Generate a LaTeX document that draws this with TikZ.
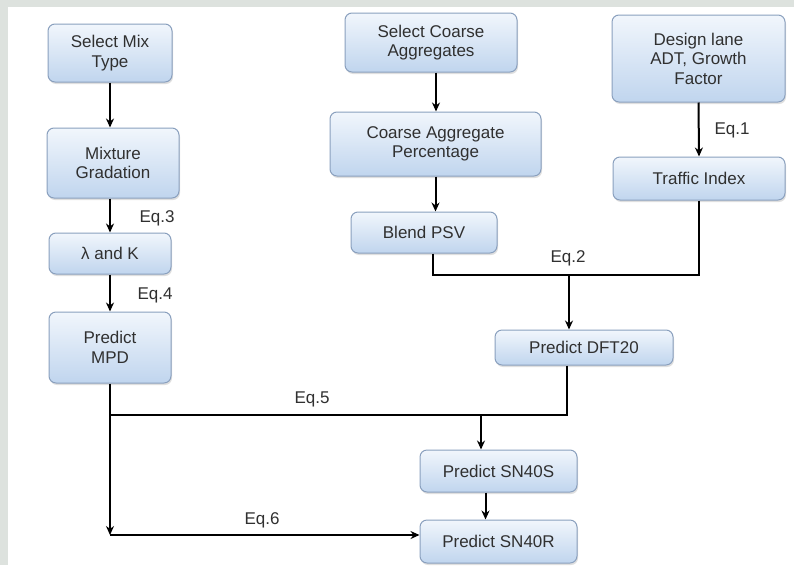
\documentclass[tikz,border=0pt]{standalone}
\usepackage{fontspec}
\setmainfont{Liberation Sans}
\usetikzlibrary{arrows.meta,shadows}
\definecolor{bgray}{HTML}{DDE2DE}
\definecolor{boxtop}{HTML}{F1F6FC}
\definecolor{boxbot}{HTML}{C0D5EE}
\definecolor{boxedge}{HTML}{8AA0BE}
\definecolor{txt}{HTML}{303030}
\tikzset{
  stepbox/.style={rounded corners=7pt, draw=boxedge, line width=1pt,
    top color=boxtop, bottom color=boxbot, text=txt, align=center,
    font=\fontsize{17}{19.5}\selectfont, inner sep=0pt,
    drop shadow={shadow xshift=1pt, shadow yshift=-2pt, opacity=0.25, fill=gray}},
  conn/.style={line width=2pt, black},
  arr/.style={conn, -{Stealth[length=9pt,width=8pt]}},
  eqlabel/.style={text=txt, font=\fontsize{17}{19}\selectfont, inner sep=0pt}
}
\begin{document}
\begin{tikzpicture}[x=1pt,y=-1pt]
\fill[bgray] (0,0) rectangle (794,565);
\fill[white] (8,7) rectangle (794,565);
\useasboundingbox (0,0) rectangle (794,565);

\node[stepbox, minimum width=124pt, minimum height=58pt] (mix) at (110,53) {Select Mix\\Type};
\node[stepbox, minimum width=132pt, minimum height=70pt] (grad) at (113,163) {Mixture\\Gradation};
\node[stepbox, minimum width=122pt, minimum height=41pt] (lk) at (110,253.5) {λ and K};
\node[stepbox, minimum width=122pt, minimum height=71pt] (mpd) at (110,347.5) {Predict\\MPD};

\node[stepbox, minimum width=172pt, minimum height=59pt] (sca) at (431,42.5) {Select Coarse\\Aggregates};
\node[stepbox, minimum width=211pt, minimum height=64pt] (cap) at (435.5,144) {Coarse Aggregate\\Percentage};
\node[stepbox, minimum width=146pt, minimum height=41pt] (psv) at (424,232.5) {Blend PSV};

\node[stepbox, minimum width=173pt, minimum height=87pt] (adt) at (698.5,58.5) {Design lane\\ADT, Growth\\Factor};
\node[stepbox, minimum width=172pt, minimum height=43pt] (ti) at (699,178.5) {Traffic Index};

\node[stepbox, minimum width=178pt, minimum height=35pt] (dft) at (584,347.5) {Predict DFT20};
\node[stepbox, minimum width=157pt, minimum height=42pt] (sns) at (498.5,471) {Predict SN40S};
\node[stepbox, minimum width=157pt, minimum height=43pt] (snr) at (498.5,541.5) {Predict SN40R};

\coordinate (j2) at (569,275);
\coordinate (j5) at (481,415);
\coordinate (j5l) at (110,415);
\coordinate (j6) at (110,535);

% left column
\draw[arr] (mix.south) -- (mix.south |- grad.north);
\draw[arr] (grad.south -| lk.north) -- (lk.north);
\draw[arr] (lk.south) -- (mpd.north);
% middle column
\draw[arr] ([xshift=5pt]sca.south) -- ([xshift=5pt]sca.south |- cap.north);
\draw[arr] (cap.south) -- (cap.south |- psv.north);
% right column
\draw[arr] (adt.south) -- (ti.north);
% Eq.2 junction
\draw[conn] ([xshift=9pt]psv.south) |- (j2);
\draw[conn] (ti.south) |- (j2);
\draw[arr] (j2) -- (j2 |- dft.north);
% Eq.5 junction
\draw[conn] ([xshift=-17pt]dft.south) |- (j5l);
\draw[arr] (j5) -- (j5 |- sns.north);
\draw[arr] ([xshift=-13pt]sns.south) -- ([xshift=-13pt]snr.north);
% Eq.6
\draw[arr] (mpd.south) -- (j6);
\draw[arr] (j6) -- (j6 -| snr.west);

\node[eqlabel] (e1) at (732,130) {Eq.1};
\node[eqlabel] (e2) at (568,258) {Eq.2};
\node[eqlabel] (e3) at (157,218) {Eq.3};
\node[eqlabel] (e4) at (155,295) {Eq.4};
\node[eqlabel] (e5) at (312,399) {Eq.5};
\node[eqlabel] (e6) at (262,520) {Eq.6};
\end{tikzpicture}
\end{document}
